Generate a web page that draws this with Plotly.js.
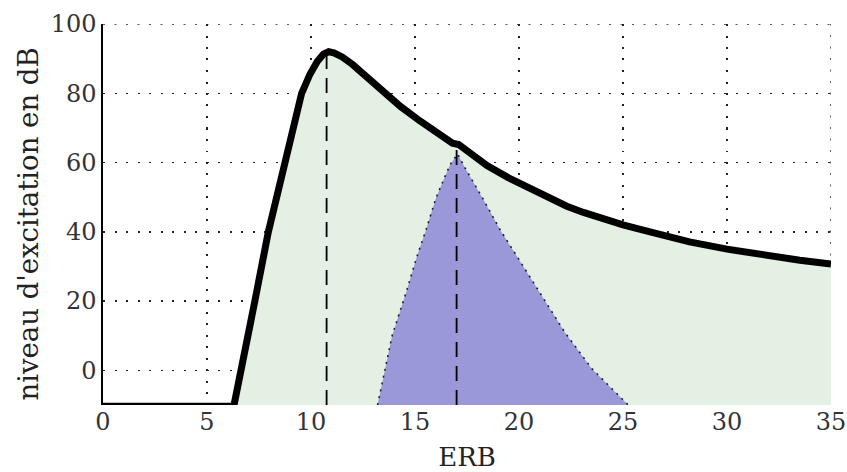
<!DOCTYPE html>
<html>
<head>
<meta charset="utf-8">
<script src="https://cdn.plot.ly/plotly-3.0.1.min.js"></script>
<style>html,body{margin:0;padding:0;background:#fff;}#chart{width:847px;height:472px;}</style>
</head>
<body>
<div id="chart"></div>
<script>
// Excitation pattern (thick black curve), ERB vs dB
const excX = [0, 6.3, 6.65, 7.3, 7.95, 8.75, 9.55, 9.95, 10.3, 10.6, 10.85, 11.1, 11.5, 12.0, 12.7, 13.46, 14.3, 15.24, 16.0, 16.5, 16.8, 17.1, 17.5, 18.0, 18.46, 19.5, 20.5, 21.5, 22.3, 23.1, 24.0, 25.0, 26.3, 28.2, 30.0, 31.9, 33.5, 35.0];
const excY = [-10, -10, 0, 20, 40, 60, 80, 85.5, 89.2, 91.3, 92, 91.7, 90.5, 88.3, 84.5, 80.2, 76.2, 72.0, 68.6, 66.4, 65.6, 65.2, 63.3, 61.1, 59.1, 55.6, 52.5, 49.6, 47.4, 45.6, 43.8, 42.0, 40.0, 37.1, 35.0, 33.1, 31.8, 30.7];
// Masked component (blue triangle)
const triX = [13.2, 13.9, 14.6, 15.1, 15.5, 16.0, 16.4, 16.7, 17.05, 17.4, 18.3, 19.1, 20.05, 21.2, 22.2, 23.5, 25.25];
const triY = [-10, 10, 23, 33, 40, 49.6, 55.4, 59.5, 62.5, 58.5, 49.2, 40.5, 31.5, 20.5, 11.0, 0.5, -10];
// Dashed markers
const dashX = [10.75, 17.0];
const dashTop = [92, 65];
const yMin = -10;
const xTicks = [0, 5, 10, 15, 20, 25, 30, 35];
const yTicks = [0, 20, 40, 60, 80, 100];
const xLabel = 'ERB';
const yLabel = "niveau d'excitation en dB";

const font = 'DejaVu Serif';
const gridDash = '2px,9.5px';

const traces = [];
traces.push({
  x: excX.concat([excX[excX.length - 1], excX[0]]),
  y: excY.concat([yMin, yMin]),
  mode: 'lines', fill: 'toself', fillcolor: '#e3f0e3',
  line: {width: 0, color: 'rgba(0,0,0,0)'}, hoverinfo: 'skip'
});
traces.push({
  x: triX, y: triY, mode: 'lines', fill: 'toself', fillcolor: '#9a98d9',
  line: {width: 1.6, color: '#222', dash: '2px,5px'}, hoverinfo: 'skip'
});
dashX.forEach((dx, i) => {
  traces.push({
    x: [dx, dx], y: [yMin, dashTop[i]], mode: 'lines',
    line: {width: 1.8, color: '#000', dash: '15px,9px'}, hoverinfo: 'skip'
  });
});
// flat floor part of the curve (clipped at the plot edge, so thinner)
traces.push({
  x: excX.slice(0, 2), y: excY.slice(0, 2), mode: 'lines',
  line: {width: 4.5, color: '#000'}, hoverinfo: 'skip'
});
traces.push({
  x: excX.slice(1), y: excY.slice(1), mode: 'lines',
  line: {width: 7, color: '#000'}, hoverinfo: 'skip'
});

const layout = {
  width: 847, height: 472,
  margin: {l: 103, r: 16, t: 24, b: 67},
  paper_bgcolor: '#fff', plot_bgcolor: '#fff',
  showlegend: false,
  xaxis: {
    range: [0, 35], tickvals: xTicks, ticktext: xTicks.map(String),
    showgrid: true, gridcolor: '#222', gridwidth: 1.4, griddash: gridDash,
    zeroline: false, showline: false, ticks: '',
    tickfont: {family: font, size: 24, color: '#333'},
    title: {text: xLabel, font: {family: font, size: 26, color: '#222'}, standoff: 12}
  },
  yaxis: {
    range: [-10, 100], tickvals: yTicks, ticktext: yTicks.map(String),
    showgrid: true, gridcolor: '#222', gridwidth: 1.4, griddash: gridDash,
    zeroline: false, showline: true, linecolor: '#000', linewidth: 1.6, ticks: '',
    tickfont: {family: font, size: 24, color: '#333'}
  },
  annotations: [
    {text: yLabel, xref: 'paper', yref: 'paper', x: 0, y: 0.5, xanchor: 'center', yanchor: 'middle',
     xshift: -76, yshift: -10, textangle: -90, showarrow: false,
     font: {family: font, size: 27.5, color: '#222'}}
  ],
  shapes: [
    {type: 'line', xref: 'paper', yref: 'y', x0: 0, x1: 1, y0: 100, y1: 100,
     line: {color: '#222', width: 1.4, dash: gridDash}, layer: 'below'},
    {type: 'line', xref: 'x', yref: 'paper', x0: 35, x1: 35, y0: 0, y1: 1,
     line: {color: '#222', width: 1.4, dash: gridDash}, layer: 'below'}
  ]
};

Plotly.newPlot('chart', traces, layout, {staticPlot: true, displayModeBar: false});
</script>
</body>
</html>
